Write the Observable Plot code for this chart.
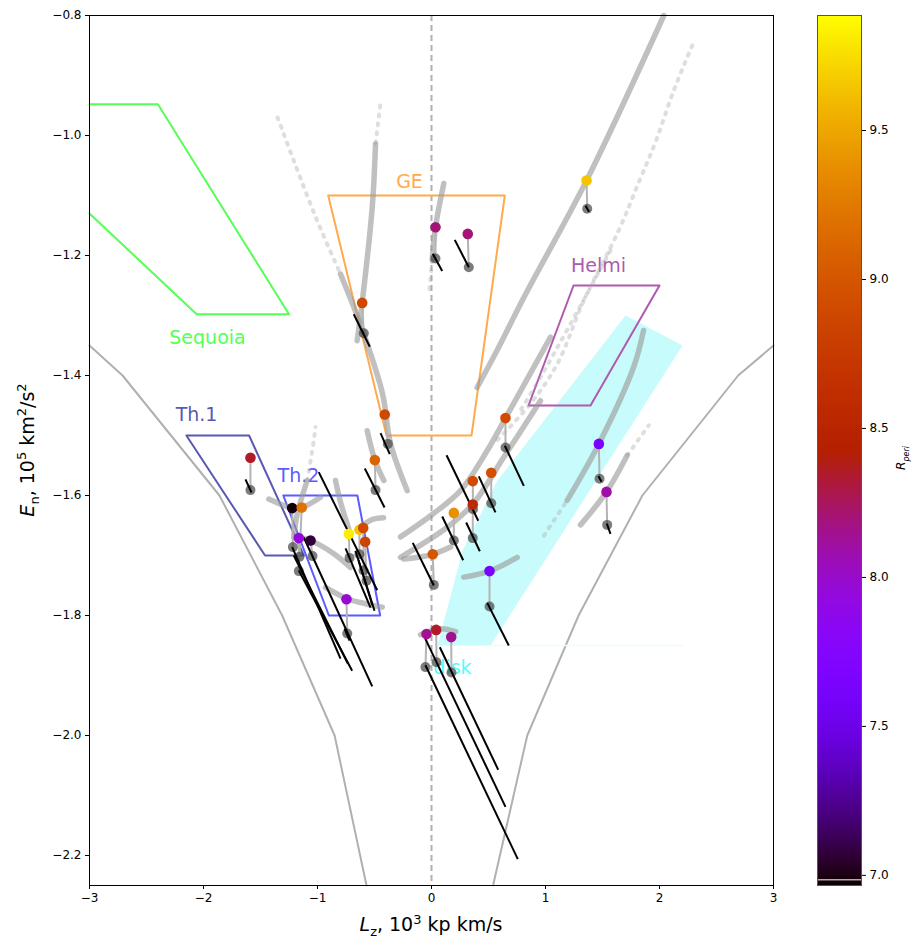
<!DOCTYPE html>
<html><head><meta charset="utf-8">
<script src="https://cdn.jsdelivr.net/npm/d3@7"></script>
<script src="https://cdn.jsdelivr.net/npm/@observablehq/plot@0.6"></script>
<style>
body{margin:0;background:#fff;font-family:"DejaVu Sans",sans-serif;}
#wrap{position:relative;width:914px;height:941px;overflow:hidden;}
#main,#cbar{position:absolute;top:0;}
#main{left:0;} #cbar{left:817px;}
.lab{position:absolute;font-family:"DejaVu Sans",sans-serif;color:#000;white-space:nowrap;line-height:1;}
</style></head><body>
<div id="wrap">
<div id="main"></div><div id="cbar"></div>
<div class="lab" id="xlab" style="left:431px;top:913px;font-size:19px;transform:translateX(-50%);"><i>L</i><sub style="font-size:13px">z</sub>, 10<sup style="font-size:13px">3</sup> kp km/s</div>
<div class="lab" id="ylab" style="left:28px;top:450px;font-size:19px;transform:translate(-50%,-50%) rotate(-90deg);"><i>E</i><sub style="font-size:13px">n</sub>, 10<sup style="font-size:13px">5</sup> km<sup style="font-size:13px">2</sup>/s<sup style="font-size:13px">2</sup></div>
<div class="lab" id="clab" style="left:903px;top:458px;font-size:12px;transform:translate(-50%,-50%) rotate(-90deg);"><i>R<sub style="font-size:8px">peri</sub></i></div>
</div>
<script>
// ---------- axes ----------
const xTicks = [-3, -2, -1, 0, 1, 2, 3];
const yTicks = [-2.2, -2.0, -1.8, -1.6, -1.4, -1.2, -1.0, -0.8];
const cTicks = [7.0, 7.5, 8.0, 8.5, 9.0, 9.5];
const cDomain = [6.966, 9.886];

// ---------- boundary curves ----------
const boundLeft  = [[-3.0,-1.35],[-2.71,-1.40],[-1.86,-1.60],[-1.31,-1.80],[-0.85,-2.00],[-0.57,-2.25]];
const boundRight = [[3.0,-1.35],[2.69,-1.40],[1.85,-1.60],[1.29,-1.80],[0.84,-2.00],[0.54,-2.25]];

// ---------- regions ----------
const polySequoia = [[-3.0,-0.948],[-2.40,-0.948],[-1.25,-1.298],[-2.06,-1.298],[-3.0,-1.13]];
const polyGE      = [[-0.906,-1.1],[0.643,-1.1],[0.351,-1.5],[-0.395,-1.5],[-0.906,-1.1]];
const polyHelmi   = [[1.246,-1.25],[2.0,-1.25],[1.395,-1.45],[0.851,-1.45],[1.246,-1.25]];
const polyTh1     = [[-2.15,-1.5],[-1.60,-1.5],[-1.12,-1.7],[-1.46,-1.7],[-2.15,-1.5]];
const polyTh2     = [[-1.30,-1.6],[-0.65,-1.6],[-0.45,-1.8],[-0.90,-1.8],[-1.30,-1.6]];
const polyDisk    = [[0.053,-1.85],[0.272,-1.692],[0.579,-1.575],[1.702,-1.30],[2.202,-1.35],[0.518,-1.85]];
const diskEdge    = [[0.518,-1.85],[2.2,-1.85]];
const regionNames = ["Sequoia","GE","Helmi","Th.1","Th.2","disk"];
const regionLabLz = [-1.965,-0.193,1.465,-2.061,-1.167,0.184];
const regionLabEn = [-1.338,-1.077,-1.217,-1.465,-1.567,-1.887];

// ---------- orbit streaks (thick) ----------
const streakR1 = [[2.038,-0.80],[1.36,-1.075],[0.81,-1.270],[0.576,-1.358],[0.40,-1.42]];
const streakR2 = [[1.044,-1.336],[0.649,-1.471],[0.489,-1.525],[0.254,-1.592],[0.018,-1.63],[-0.272,-1.669]];
const streakR3 = [[0.956,-1.442],[0.635,-1.536],[0.368,-1.613],[0.138,-1.653],[-0.272,-1.703]];
const streakS2 = [[0.108,-1.080],[0.035,-1.153],[0.006,-1.208]];
const streakS3 = [[1.19,-1.608],[1.468,-1.514],[1.775,-1.385],[1.86,-1.325]];
const streakS4 = [[1.307,-1.649],[1.535,-1.594],[1.717,-1.533]];
const streakS5 = [[0.283,-1.736],[0.509,-1.726],[0.752,-1.703]];
const streakS6 = [[-0.243,-1.706],[0.011,-1.698],[0.167,-1.686]];
const streakS7 = [[-0.096,-1.832],[0.079,-1.822],[0.211,-1.827]];
const streakS9 = [[-0.491,-1.014],[-0.520,-1.120],[-0.608,-1.278],[-0.652,-1.342]];
const streakS10 = [[-0.798,-1.231],[-0.614,-1.32],[-0.430,-1.43],[-0.360,-1.513],[-0.213,-1.592]];
const streakS11 = [[-0.564,-1.492],[-0.497,-1.541],[-0.418,-1.575]];
const streakS12 = [[-1.427,-1.606],[-1.222,-1.621],[-1.134,-1.620],[-0.974,-1.603]];
const streakS13 = [[-1.208,-1.670],[-1.178,-1.631],[-1.090,-1.575]];
const streakS14 = [[-1.164,-1.670],[-1.061,-1.675],[-0.857,-1.697],[-0.711,-1.720]];
const streakS15 = [[-0.930,-1.753],[-0.739,-1.772],[-0.564,-1.781],[-0.432,-1.786]];
const streakS16 = [[-0.842,-1.575],[-0.798,-1.611],[-0.711,-1.664]];
const streakS17 = [[-0.640,-1.655],[-0.52,-1.640],[-0.421,-1.637]];
// ---------- orbit streaks (faint, dotted) ----------
const faintD1 = [[2.287,-0.85],[2.125,-0.925],[1.965,-1.011],[1.818,-1.078],[1.643,-1.158],[1.336,-1.275],[1.103,-1.381],[0.868,-1.447],[0.576,-1.508]];
const faintF2 = [[1.570,-1.192],[1.219,-1.314],[0.956,-1.403],[0.781,-1.458]];
const faintS9 = [[-0.45,-0.95],[-0.491,-1.014]];
const faintS10 = [[-1.35,-0.97],[-1.208,-1.042],[-1.003,-1.142],[-0.798,-1.231]];
const faintS13 = [[-1.090,-1.575],[-1.032,-1.508],[-1.018,-1.486]];
const faintS3 = [[0.986,-1.667],[1.19,-1.608]];
const faintS4 = [[1.717,-1.533],[1.906,-1.483]];
const faintS2 = [[0.006,-1.208],[-0.02,-1.26]];

// ---------- stars ----------
const starLz  = [1.360,0.035,0.318,-0.608,-0.410,0.649,-0.497,-1.588,1.468,0.362,0.524,0.362,0.196,1.535,0.011,0.509,-0.044,0.041,0.173,-1.222,-1.138,-1.164,-1.061,-0.725,-0.632,-0.599,-0.582,-0.746];
const starEn  = [-1.075,-1.153,-1.164,-1.279,-1.465,-1.471,-1.541,-1.537,-1.514,-1.576,-1.562,-1.615,-1.629,-1.594,-1.698,-1.726,-1.831,-1.824,-1.836,-1.621,-1.620,-1.671,-1.675,-1.664,-1.657,-1.654,-1.677,-1.773];
const darkLz  = [1.366,0.035,0.327,-0.594,-0.383,0.649,-0.491,-1.588,1.474,0.364,0.524,0.362,0.196,1.541,0.020,0.509,-0.053,0.044,0.175,-1.216,-1.158,-1.164,-1.044,-0.719,-0.632,-0.596,-0.570,-0.739];
const darkEn  = [-1.122,-1.205,-1.2195,-1.3295,-1.514,-1.520,-1.591,-1.591,-1.572,-1.623,-1.613,-1.671,-1.675,-1.649,-1.749,-1.785,-1.886,-1.878,-1.895,-1.686,-1.702,-1.726,-1.701,-1.704,-1.698,-1.725,-1.742,-1.830];
const errLz1  = [1.351,0.011,0.204,-0.682,-0.447,0.643,-0.585,-1.632,1.465,0.132,0.415,0.304,0.094,1.538,-0.164,0.489,-0.053,-0.061,0.073,-1.222,-1.208,-1.164,-1.120,-0.754,-0.989,-0.667,-0.640,-0.763];
const errEn1  = [-1.117,-1.197,-1.174,-1.298,-1.496,-1.517,-1.555,-1.573,-1.568,-1.533,-1.568,-1.645,-1.635,-1.647,-1.679,-1.779,-1.883,-1.836,-1.853,-1.686,-1.700,-1.725,-1.670,-1.688,-1.561,-1.692,-1.708,-1.822];
const errLz2  = [1.382,0.094,0.327,-0.541,-0.366,0.810,-0.412,-1.579,1.491,0.410,0.561,0.424,0.278,1.570,0.020,0.678,0.757,0.649,0.585,-0.798,-0.734,-0.696,-0.520,-0.535,-0.476,-0.518,-0.500,-0.719];
const errEn2  = [-1.127,-1.226,-1.2195,-1.352,-1.531,-1.584,-1.620,-1.595,-1.577,-1.642,-1.628,-1.693,-1.708,-1.664,-1.750,-1.850,-2.206,-2.119,-2.057,-1.872,-1.880,-1.892,-1.918,-1.787,-1.758,-1.783,-1.792,-1.842];
const rPeri   = [9.65,8.20,8.20,8.88,8.88,8.90,9.10,8.35,7.64,8.90,8.95,8.55,9.38,8.10,9.00,7.60,8.15,8.35,8.15,6.98,9.20,7.95,7.07,9.82,9.65,8.90,8.85,7.98];

// ---------- build tables ----------
const stars = starLz.map((v,i)=>({cLz:v,cEn:starEn[i],dLz:darkLz[i],dEn:darkEn[i],x1:errLz1[i],y1:errEn1[i],x2:errLz2[i],y2:errEn2[i],rp:rPeri[i]}));
const toRows = (arrs) => arrs.flatMap((a,k)=>a.map(p=>({Lz:p[0],En:p[1],id:k})));
const thick = toRows([streakR1,streakR2,streakR3,streakS2,streakS3,streakS4,streakS5,streakS6,streakS7,streakS9,streakS10,streakS11,streakS12,streakS13,streakS14,streakS15,streakS16,streakS17]);
const faint = toRows([faintD1,faintF2,faintS9,faintS10,faintS13,faintS3,faintS4,faintS2]);
const labels = regionNames.map((n,i)=>({n,Lz:regionLabLz[i],En:regionLabEn[i]}));
const labelColors = ["#55ff55","#ffaa4d","#ae5aae","#5959b3","#5b5bff","#4dffff"];

const gnuplot = t => {
  t = Math.max(0, Math.min(1, t));
  const r = Math.sqrt(t), g = t*t*t, b = Math.max(0, Math.sin(2*Math.PI*t));
  return `rgb(${Math.round(r*255)},${Math.round(g*255)},${Math.round(b*255)})`;
};
const colorOpt = {type:"linear", domain:cDomain, interpolate:gnuplot, clamp:true};
const xy = {x:p=>p[0], y:p=>p[1]};

const main = Plot.plot({
  width: 790, height: 941,
  marginLeft: 89, marginRight: 17, marginTop: 15, marginBottom: 56,
  style: {fontFamily:"DejaVu Sans, sans-serif", fontSize:"12px", color:"#000", background:"#fff"},
  x: {domain:[-3,3], ticks:xTicks, tickFormat:d3.format("d"), tickSize:4, tickPadding:4, label:null},
  y: {domain:[-2.25,-0.8], ticks:yTicks, tickFormat:d3.format(".1f"), tickSize:4, tickPadding:4, label:null},
  color: colorOpt,
  marks: [
    Plot.line(boundLeft, {...xy, stroke:"#b0b0b0", strokeWidth:2}),
    Plot.line(boundRight, {...xy, stroke:"#b0b0b0", strokeWidth:2}),
    Plot.ruleX([0], {stroke:"#b0b0b0", strokeWidth:2, strokeDasharray:"6,4"}),
    Plot.line(polyDisk, {...xy, fill:"#c8fcfc", stroke:"none"}),
    Plot.line(diskEdge, {...xy, stroke:"#e6ffff", strokeWidth:1.5}),
    Plot.line(polySequoia, {...xy, stroke:"#55ff55", strokeWidth:2}),
    Plot.line(polyGE, {...xy, stroke:"#ffaa4d", strokeWidth:2}),
    Plot.line(polyHelmi, {...xy, stroke:"#ae5aae", strokeWidth:2}),
    Plot.line(polyTh1, {...xy, stroke:"#5959b3", strokeWidth:2}),
    Plot.line(polyTh2, {...xy, stroke:"#5b5bff", strokeWidth:2}),
    Plot.text(labels, {x:"Lz", y:"En", text:"n", fill:(d,i)=>labelColors[i], fontSize:19, textAnchor:"middle"}),
    Plot.line(faint, {x:"Lz", y:"En", z:"id", stroke:"#a0a0a0", strokeOpacity:0.35, strokeWidth:4, strokeDasharray:"2,7", strokeLinecap:"round", curve:"catmull-rom"}),
    Plot.line(thick, {x:"Lz", y:"En", z:"id", stroke:"#999999", strokeOpacity:0.62, strokeWidth:5.5, strokeLinecap:"round", curve:"catmull-rom"}),
    Plot.link(stars, {x1:"cLz", y1:"cEn", x2:"dLz", y2:"dEn", stroke:"#b4b4b4", strokeWidth:2}),
    Plot.dot(stars, {x:"dLz", y:"dEn", r:5, fill:"#4a4a4a", fillOpacity:0.72, stroke:"none"}),
    Plot.link(stars, {x1:"x1", y1:"y1", x2:"x2", y2:"y2", stroke:"#000", strokeWidth:2}),
    Plot.dot(stars, {x:"cLz", y:"cEn", r:5.3, fill:"rp", stroke:"none"}),
    Plot.frame({stroke:"#000", strokeWidth:1})
  ]
});
document.getElementById("main").appendChild(main);

const cbar = Plot.plot({
  width: 97, height: 941,
  marginLeft: 0, marginRight: 53, marginTop: 15, marginBottom: 56,
  style: {fontFamily:"DejaVu Sans, sans-serif", fontSize:"12px", color:"#000", background:"transparent"},
  x: {domain:[0,1], axis:null},
  y: {domain:cDomain, axis:"right", ticks:cTicks, tickFormat:d3.format(".1f"), tickSize:4, tickPadding:4, label:null},
  color: colorOpt,
  marks: [
    Plot.raster({x1:0, x2:1, y1:cDomain[0], y2:cDomain[1], width:1, height:600, fill:(x,y)=>y, imageRendering:"auto"}),
    Plot.ruleY([6.985], {stroke:"#fff", strokeWidth:1}),
    Plot.frame({stroke:"#555", strokeWidth:1})
  ]
});
document.getElementById("cbar").appendChild(cbar);
</script>
</body></html>
